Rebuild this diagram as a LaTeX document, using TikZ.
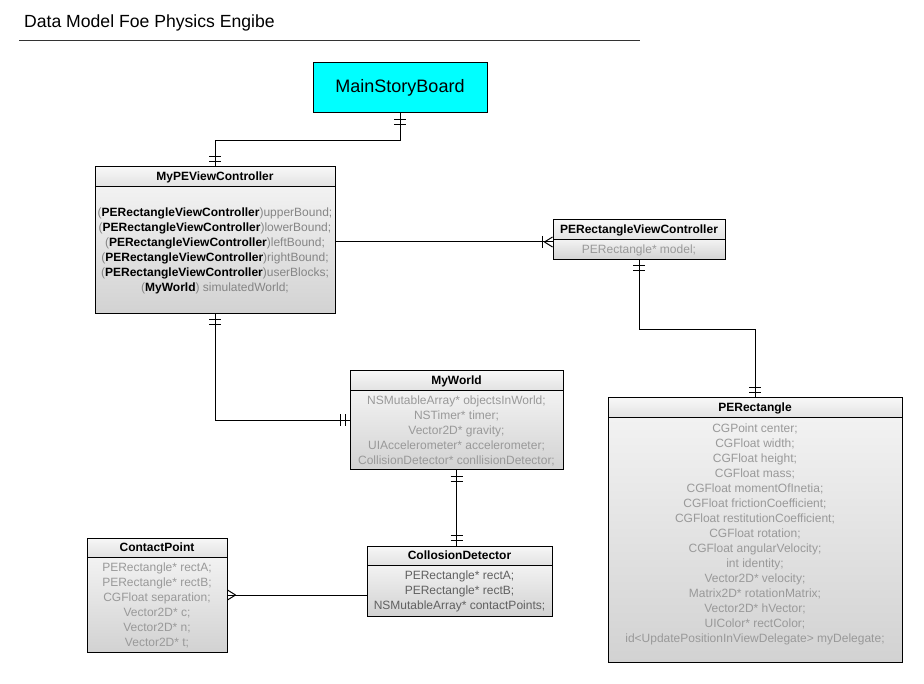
\documentclass[tikz,border=0pt]{standalone}
\usepackage{fontspec}
\setmainfont{Liberation Sans}
\usetikzlibrary{fit}
\definecolor{hdtop}{HTML}{F7F7F7}
\definecolor{hdbot}{HTML}{E2E2E2}
\definecolor{bdtop}{HTML}{F2F2F2}
\definecolor{bdbot}{HTML}{D2D2D2}
\definecolor{txtA}{HTML}{999999}
\definecolor{txtB}{HTML}{858585}
\definecolor{txtC}{HTML}{606060}
\definecolor{msbcyan}{HTML}{00FFFF}
\newcommand\umlclass[7]{%
  \shade[top color=hdtop,bottom color=hdbot] (#2,#3) rectangle (#4,#6);
  \shade[top color=bdtop,bottom color=bdbot] (#2,#6) rectangle (#4,#5);
  \draw[boxline] (#2,#6) -- (#4,#6);
  \node[fit={(#2,#3) (#4,#5)}, inner sep=0pt, draw, boxline] (#1) {};
  \node[titletxt] (#1-t) at ({(#2+#4)/2},{(#3+#6)/2}) {#7};
}
\begin{document}
\begin{tikzpicture}[x=1pt,y=-1pt,
  boxline/.style={line width=1pt, draw=black},
  conn/.style={line width=1pt, draw=black},
  titletxt/.style={font=\fontsize{12}{15}\selectfont\bfseries, text=black, inner sep=0pt},
  bodytxt/.style={font=\fontsize{12}{15}\selectfont, align=center, inner sep=0pt}]
\useasboundingbox[fill=white] (0,0) rectangle (924,684);

% title
\node[anchor=west, font=\fontsize{17.6}{20}\selectfont, inner sep=0pt] (title) at (24,23) {Data Model Foe Physics Engibe};
\draw[line width=0.8pt, draw=black!80] (19,40) coordinate (tl1) -- (640,40) coordinate (tl2);

% MainStoryBoard
\node[draw, boxline, fill=msbcyan, minimum width=174pt, minimum height=50pt, inner sep=0pt,
  font=\fontsize{18}{20}\selectfont] (msb) at (400,88) {MainStoryBoard};

% classes
\umlclass{mypevc}{95}{167}{335}{314}{187}{MyPEViewController}
\node[bodytxt, text=txtB] (mypevc-b) at (215,251) {%
(\textcolor{black}{\textbf{PERectangleViewController}})upperBound;\\
(\textcolor{black}{\textbf{PERectangleViewController}})lowerBound;\\
(\textcolor{black}{\textbf{PERectangleViewController}})leftBound;\\
(\textcolor{black}{\textbf{PERectangleViewController}})rightBound;\\
(\textcolor{black}{\textbf{PERectangleViewController}})userBlocks;\\
(\textcolor{black}{\textbf{MyWorld}}) simulatedWorld;};

\umlclass{perectvc}{553}{220}{725}{260}{240}{PERectangleViewController}
\node[bodytxt, text=txtA] (perectvc-b) at (639,250) {PERectangle* model;};

\umlclass{myworld}{350}{371}{563}{470}{391}{MyWorld}
\node[bodytxt, text=txtA] (myworld-b) at (456.5,431) {%
NSMutableArray* objectsInWorld;\\
NSTimer* timer;\\
Vector2D* gravity;\\
UIAccelerometer* accelerometer;\\
CollisionDetector* conllisionDetector;};

\umlclass{perect}{608}{398}{902}{662}{418}{PERectangle}
\node[bodytxt, text=txtA] (perect-b) at (755,534) {%
CGPoint center;\\
CGFloat width;\\
CGFloat height;\\
CGFloat mass;\\
CGFloat momentOfInetia;\\
CGFloat frictionCoefficient;\\
CGFloat restitutionCoefficient;\\
CGFloat rotation;\\
CGFloat angularVelocity;\\
int identity;\\
Vector2D* velocity;\\
Matrix2D* rotationMatrix;\\
Vector2D* hVector;\\
UIColor* rectColor;\\
id<UpdatePositionInViewDelegate> myDelegate;};

\umlclass{cp}{87}{538}{227}{652}{557}{ContactPoint}
\node[bodytxt, text=txtA] (cp-b) at (157,605) {%
PERectangle* rectA;\\
PERectangle* rectB;\\
CGFloat separation;\\
Vector2D* c;\\
Vector2D* n;\\
Vector2D* t;};

\umlclass{cd}{367}{546}{552}{616}{565}{CollosionDetector}
\node[bodytxt, text=txtC] (cd-b) at (459.5,591) {%
PERectangle* rectA;\\
PERectangle* rectB;\\
NSMutableArray* contactPoints;};

% connectors
% MainStoryBoard -- MyPEViewController
\draw[conn] (msb.south) -- ++(0,27) -| (mypevc.north);
\draw[conn] ([yshift=-6pt]msb.south) ++(-6,0) -- ++(12,0);
\draw[conn] ([yshift=-11pt]msb.south) ++(-6,0) -- ++(12,0);
\draw[conn] ([yshift=5pt]mypevc.north) ++(-6,0) -- ++(12,0);
\draw[conn] ([yshift=10pt]mypevc.north) ++(-6,0) -- ++(12,0);

% MyPEViewController -- PERectangleViewController
\coordinate (c2) at ([yshift=-2pt]perectvc.west);
\draw[conn] (c2) -- (c2 -| mypevc.east);
\draw[conn] (c2) ++(-8,0) -- ++(8,-5);
\draw[conn] (c2) ++(-8,0) -- ++(8,5);
\draw[conn] (c2) ++(-10,-6) -- ++(0,12);

% PERectangleViewController -- PERectangle
\draw[conn] (perectvc.south) -- ++(0,69) -| (perect.north);
\draw[conn] ([yshift=-5pt]perectvc.south) ++(-6,0) -- ++(12,0);
\draw[conn] ([yshift=-10pt]perectvc.south) ++(-6,0) -- ++(12,0);
\draw[conn] ([yshift=5pt]perect.north) ++(-6,0) -- ++(12,0);
\draw[conn] ([yshift=10pt]perect.north) ++(-6,0) -- ++(12,0);

% MyPEViewController -- MyWorld
\draw[conn] (mypevc.south) |- (myworld.west);
\draw[conn] ([yshift=-5pt]mypevc.south) ++(-6,0) -- ++(12,0);
\draw[conn] ([yshift=-10pt]mypevc.south) ++(-6,0) -- ++(12,0);
\draw[conn] ([xshift=-4pt]myworld.west) ++(0,-6) -- ++(0,12);
\draw[conn] ([xshift=-9pt]myworld.west) ++(0,-6) -- ++(0,12);

% MyWorld -- CollosionDetector
\draw[conn] (myworld.south) -- (myworld.south |- cd.north);
\draw[conn] ([yshift=-6pt]myworld.south) ++(-6,0) -- ++(12,0);
\draw[conn] ([yshift=-11pt]myworld.south) ++(-6,0) -- ++(12,0);
\draw[conn] ([yshift=5pt]myworld.south |- cd.north) ++(-6,0) -- ++(12,0);
\draw[conn] ([yshift=10pt]myworld.south |- cd.north) ++(-6,0) -- ++(12,0);

% CollosionDetector -- ContactPoint
\coordinate (c6) at ([yshift=-14pt]cd.west);
\draw[conn] (c6) -- (c6 -| cp.east);
\coordinate (c6e) at (c6 -| cp.east);
\draw[conn] (c6e) ++(8,0) -- ++(-8,-5);
\draw[conn] (c6e) ++(8,0) -- ++(-8,5);
\end{tikzpicture}
\end{document}
